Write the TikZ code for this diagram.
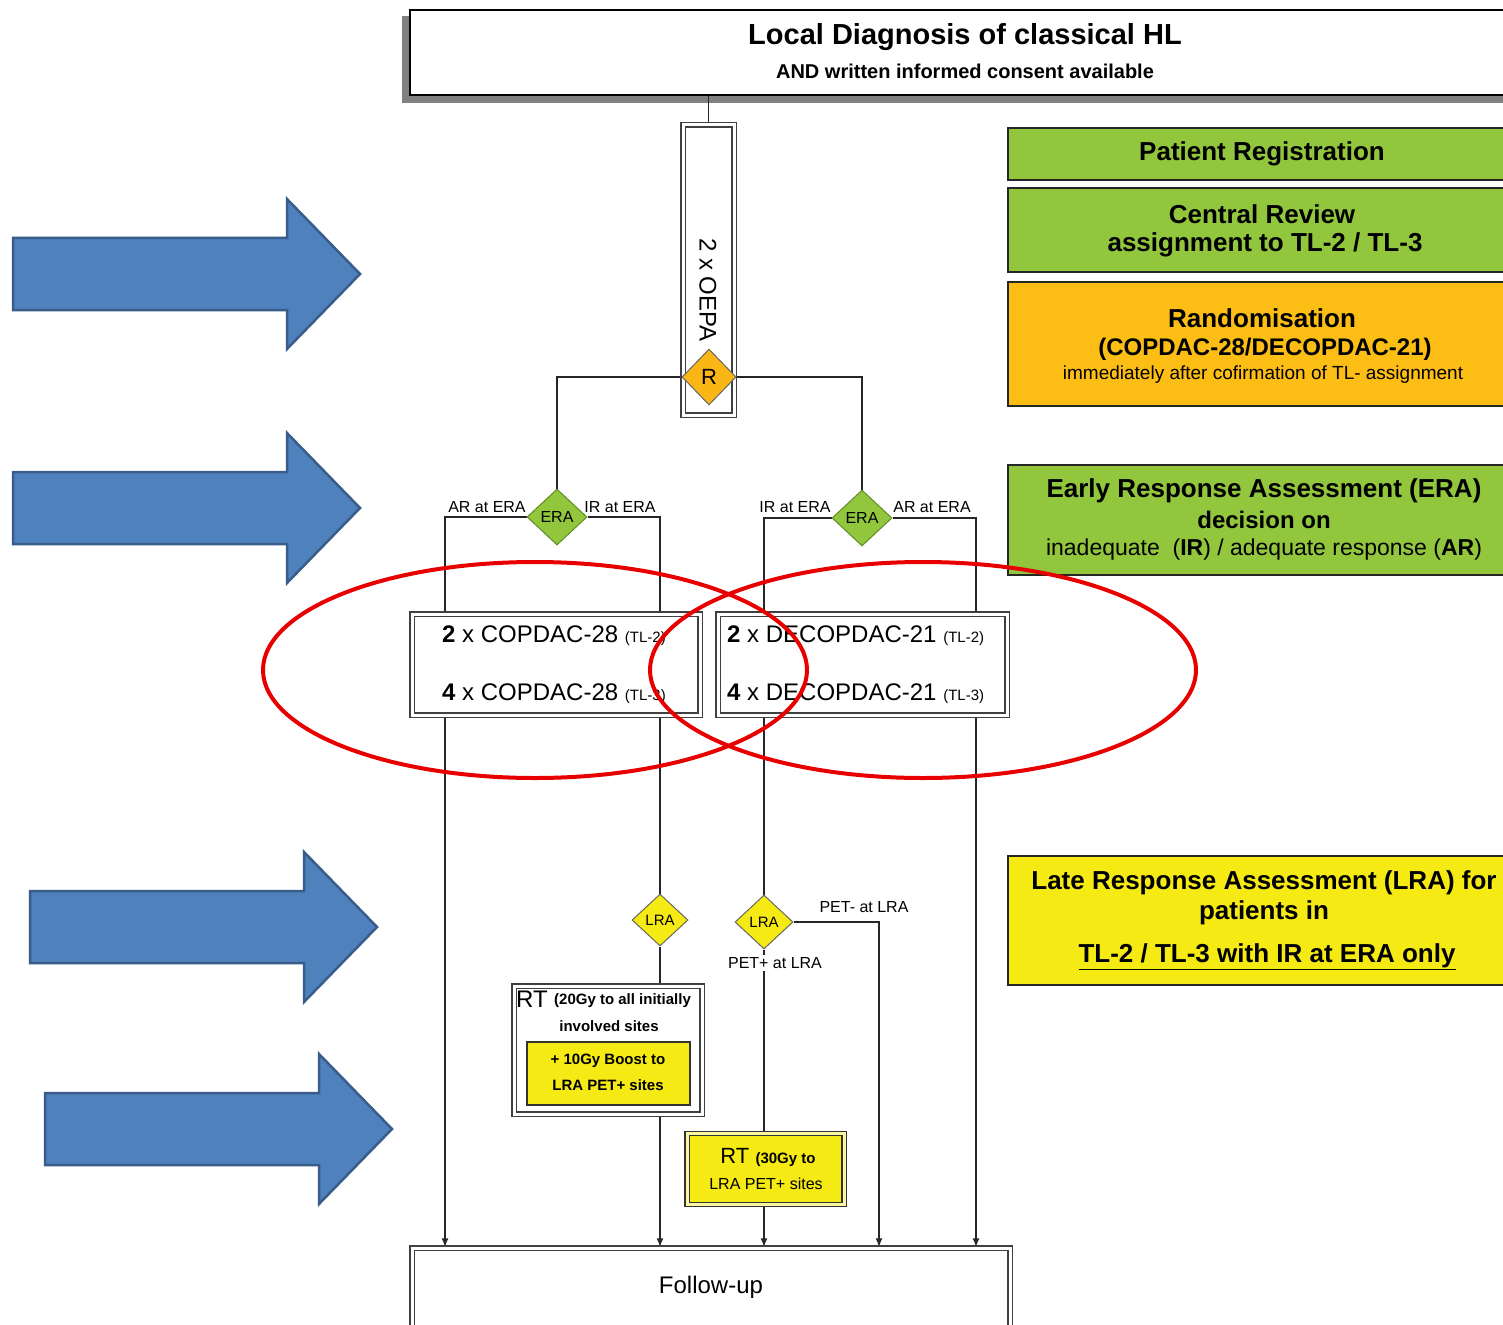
\documentclass[tikz,border=0pt]{standalone}
\usepackage{fontspec}
\setmainfont{Liberation Sans}
\usetikzlibrary{shapes.geometric,arrows.meta}
\pgfdeclarelayer{bg}
\pgfsetlayers{bg,main}
\definecolor{pgreen}{RGB}{146,198,60}
\definecolor{dgreen}{RGB}{96,140,40}
\definecolor{rorange}{RGB}{252,190,20}
\definecolor{dorange}{RGB}{250,182,20}
\definecolor{lyellow}{RGB}{245,234,20}
\definecolor{barrowfill}{RGB}{79,129,189}
\definecolor{barrowline}{RGB}{56,93,138}
\definecolor{redring}{RGB}{232,0,0}
\newcommand\fsz[1]{\fontsize{#1}{#1}\selectfont}
\tikzset{
  conn/.style={draw=black!85, line width=1.6pt},
  arr/.style={conn, -{Latex[length=9pt,width=7pt]}},
  dbox/.style={draw=black!75, line width=1.4pt, double=white, double distance=3pt, fill=white, inner sep=0pt},
  ybox/.style={draw=black!80, line width=1.2pt, fill=lyellow, inner sep=0pt},
  panel/.style={draw=black!85, line width=1.5pt, minimum width=512pt, inner sep=0pt},
  dia/.style={diamond, draw=black!60, line width=1pt, inner sep=0pt},
  txt/.style={inner sep=0pt},
  redring/.style={draw=redring, line width=4pt},
  barrow/.pic={\draw[fill=barrowfill, draw=barrowline, line width=2.5pt, line join=miter]
     (0,-36) -- (274,-36) -- (274,-75) -- (347,0) -- (274,75) -- (274,36) -- (0,36) -- cycle;}
}
\begin{document}
\begin{tikzpicture}[x=1pt,y=-1pt]
\path[use as bounding box, clip] (0,0) rectangle (1503,1324);
\begin{pgfonlayer}{bg}
\fill[white] (0,0) rectangle (1503,1324);
\end{pgfonlayer}

% blue arrows
\pic at (13,274) {barrow};
\pic at (13,508) {barrow};
\pic at (30,927) {barrow};
\pic at (45,1129) {barrow};

% top box
\node[draw=black, line width=2.5pt, fill=white, minimum width=1110pt, minimum height=85pt] (top) at (965,52.5) {};
\node[txt, font=\bfseries\fsz{29}] (t1) at (965,37) {Local Diagnosis of classical HL};
\node[txt, font=\bfseries\fsz{20}] (t2) at (965,71) {AND written informed consent available};

% OEPA
\node[dbox, minimum width=51pt, minimum height=290pt] (oepa) at (708.5,270) {};
\node[txt, rotate=-90, font=\fsz{24}] (oepatxt) at (708,290) {2 x OEPA};
\node[dia, fill=dorange, minimum width=54pt, minimum height=56pt, font=\fsz{22}] (R) at (709,377) {R};

% ERA diamonds
\node[dia, fill=pgreen, draw=dgreen, minimum width=60pt, minimum height=56pt, font=\fsz{16}] (eraL) at (557,517) {ERA};
\node[dia, fill=pgreen, draw=dgreen, minimum width=60pt, minimum height=56pt, font=\fsz{16}] (eraR) at (862,518) {ERA};
\node[txt, font=\fsz{16}] (l1) at (487,507) {AR at ERA};
\node[txt, font=\fsz{16}] (l2) at (620,507) {IR at ERA};
\node[txt, font=\fsz{16}] (l3) at (795,507) {IR at ERA};
\node[txt, font=\fsz{16}] (l4) at (932,507) {AR at ERA};

% chemo boxes
\node[dbox, minimum width=288pt, minimum height=101pt] (cop) at (556,664.5) {};
\node[dbox, minimum width=289pt, minimum height=101pt] (decop) at (862.5,664.5) {};
\node[txt, anchor=west, font=\fsz{24}] (c1) at (442,636) {{\bfseries 2} x COPDAC-28 {\fsz{15}(TL-2)}};
\node[txt, anchor=west, font=\fsz{24}] (c2) at (442,694) {{\bfseries 4} x COPDAC-28 {\fsz{15}(TL-3)}};
\node[txt, anchor=west, font=\fsz{24}] (d1) at (727,636) {{\bfseries 2} x DECOPDAC-21 {\fsz{15}(TL-2)}};
\node[txt, anchor=west, font=\fsz{24}] (d2) at (727,694) {{\bfseries 4} x DECOPDAC-21 {\fsz{15}(TL-3)}};

% LRA diamonds
\node[dia, fill=lyellow, minimum width=56pt, minimum height=52pt, font=\fsz{15}] (lraL) at (660,920) {LRA};
\node[dia, fill=lyellow, minimum width=58pt, minimum height=54pt, font=\fsz{15}] (lraR) at (764,922) {LRA};
\node[txt, font=\fsz{16}] (pm) at (864,907) {PET- at LRA};
\node[txt, font=\fsz{16}, fill=white, inner sep=2pt] (pp) at (775,963) {PET+ at LRA};

% RT boxes
\node[dbox, minimum width=188pt, minimum height=128pt] (rtL) at (608,1050) {};
\node[txt, anchor=west, font=\fsz{24}] (rt1) at (516,999) {RT};
\node[txt, anchor=west, font=\bfseries\fsz{15}] (rt2) at (554,1001) {(20Gy to all initially};
\node[txt, font=\bfseries\fsz{15}] (rt3) at (609,1026) {involved sites};
\node[ybox, minimum width=163pt, minimum height=63pt] (boost) at (608.5,1073.5) {};
\node[txt, font=\bfseries\fsz{15}] (b1) at (608,1061) {+ 10Gy Boost to};
\node[txt, font=\bfseries\fsz{15}] (b2) at (608,1085) {LRA PET+ sites};

\node[draw=black!80, line width=1.2pt, double=lyellow!40, double distance=3pt, fill=lyellow, minimum width=157pt, minimum height=71pt] (rtR) at (765.5,1169) {};
\node[txt, font=\fsz{22}] (r1) at (768,1157) {RT {\bfseries\fsz{15}(30Gy to}};
\node[txt, font=\fsz{16}] (r2) at (766,1184) {LRA PET+ sites};

% follow-up
\node[dbox, minimum width=598pt, minimum height=92pt] (fu) at (711,1294) {};
\node[txt, font=\fsz{24}] (fut) at (711,1287) {Follow-up};

% right panel
\node[panel, fill=pgreen, minimum height=52pt] (pr) at (1264,154) {};
\node[txt, font=\bfseries\fsz{26}] (prt) at (1262,154) {Patient Registration};
\node[panel, fill=pgreen, minimum height=84pt] (cr) at (1264,230) {};
\node[txt, font=\bfseries\fsz{26}] (cr1) at (1262,214) {Central Review};
\node[txt, font=\bfseries\fsz{26}] (cr2) at (1265,245) {assignment to TL-2 / TL-3};
\node[panel, fill=rorange, minimum height=124pt] (rand) at (1264,344) {};
\node[txt, font=\bfseries\fsz{26}] (ra1) at (1262,318) {Randomisation};
\node[txt, font=\bfseries\fsz{24}] (ra2) at (1265,349) {(COPDAC-28/DECOPDAC-21)};
\node[txt, font=\fsz{19}] (ra3) at (1263,375) {immediately after cofirmation of TL- assignment};
\node[panel, fill=pgreen, minimum height=110pt] (era) at (1264,520) {};
\node[txt, font=\bfseries\fsz{26}] (er1) at (1264,491) {Early Response Assessment (ERA)};
\node[txt, font=\bfseries\fsz{24}] (er2) at (1264,520) {decision on};
\node[txt, font=\fsz{23}] (er3) at (1264,550) {inadequate\ \ ({\bfseries IR}) / adequate\ response\ ({\bfseries AR})};
\node[panel, fill=lyellow, minimum height=129pt] (lra) at (1264,920.5) {};
\node[txt, font=\bfseries\fsz{26}] (lr1) at (1264,883) {Late Response Assessment (LRA) for};
\node[txt, font=\bfseries\fsz{26}] (lr2) at (1264,913) {patients in};
\node[txt, font=\bfseries\fsz{26}] (lr3) at (1267,957) {\underline{TL-2 / TL-3 with IR at ERA only}};

% connectors
\coordinate (xa) at (445,0);
\coordinate (xd) at (879,0);
\coordinate (xe) at (976,0);
\begin{pgfonlayer}{bg}
\fill[black!50] ([xshift=-7pt,yshift=-7pt]top.south west) rectangle ([xshift=-7pt,yshift=-7pt]top.north east);
\draw[conn] (oepa.north |- top.south) -- (oepa.north);
\draw[conn] (R.west) -| (eraL.north);
\draw[conn] (R.east) -| (eraR.north);
\draw[arr] (eraL.west) -| (fu.north -| xa);
\draw[conn] (eraL.east) -| (lraL.north);
\draw[conn] (eraR.west) -| (lraR.north);
\draw[arr] (eraR.east) -| (fu.north -| xe);
\draw[arr] (lraL.south) -- (fu.north -| lraL.south);
\draw[arr] (lraR.south) -- (fu.north -| lraR.south);
\draw[arr] (lraR.east) -| (fu.north -| xd);
\end{pgfonlayer}

% red rings
\draw[redring] (535,670) ellipse [x radius=272, y radius=108];
\draw[redring] (923,670) ellipse [x radius=273, y radius=108];
\end{tikzpicture}
\end{document}
